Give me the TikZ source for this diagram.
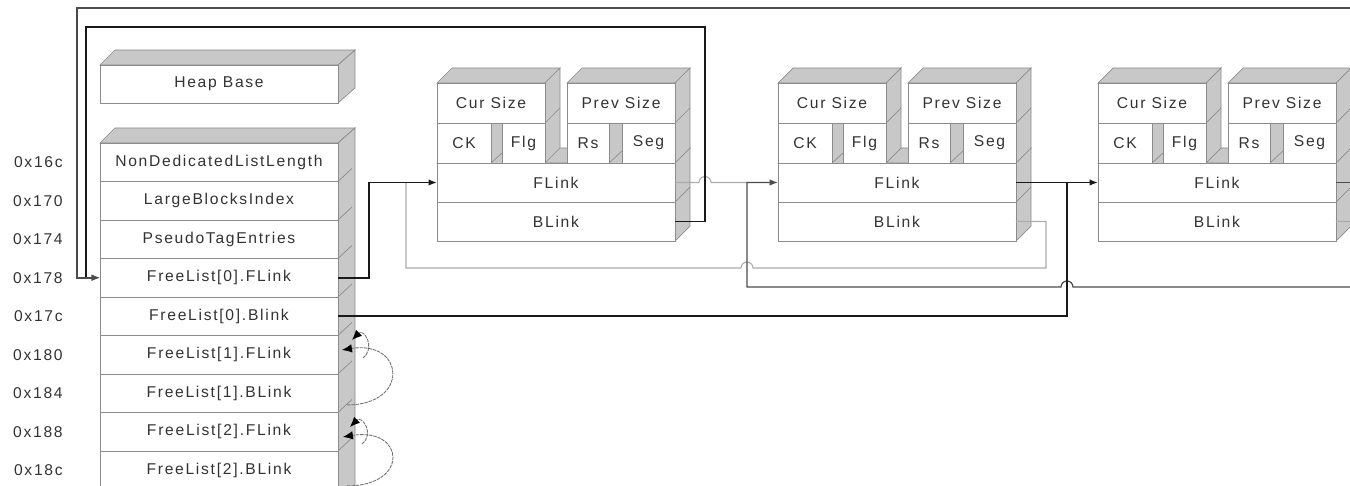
\documentclass[tikz,border=0pt]{standalone}
\usepackage{fontspec}
\usetikzlibrary{arrows.meta,calc,positioning}
\newfontfamily\cellfont[LetterSpace=11]{Liberation Sans}
\definecolor{facegray}{HTML}{C8C8C8}
\definecolor{edgegray}{HTML}{8C8C8C}
\definecolor{textgray}{HTML}{333333}
\tikzset{
  cell/.style={draw=edgegray, fill=white, inner sep=0pt, outer sep=0pt, text=textgray, font=\cellfont\fontsize{8.9}{10}\selectfont},
  heaprow/.style={cell, minimum width=4.76cm, minimum height=0.77cm},
  chunkcell/.style={cell, anchor=north west, minimum width=#1, minimum height=0.8cm},
  addr/.style={inner sep=0pt, text=textgray, font=\cellfont\fontsize{8.9}{10}\selectfont},
  face/.style={fill=facegray, draw=edgegray, line width=0.4pt},
  link/.style={line width=0.9pt, black!90},
  greylink/.style={line width=0.6pt, gray!65},
  darklink/.style={line width=0.7pt, black!70},
  arrow/.style={-{Latex[length=1.7mm, width=1.3mm]}},
  loopline/.style={line width=0.5pt, black!55, dash pattern=on 2pt off 0.5pt, -{Latex[length=2mm, width=1.7mm, color=black]}}
}

\begin{document}
\begin{tikzpicture}[x=0.02cm, y=-0.02cm]
  \useasboundingbox (0,0) rectangle (1350,486);
  \clip (0,0) rectangle (1350,486);
  \fill[white] (0,0) rectangle (1350,486);

  % heap header faces
  \draw[face] (100,65) -- (115,50) -- (355,50) -- (338,65) -- cycle;
  \draw[face] (338,65) -- (355,50) -- (355,88) -- (338,103) -- cycle;
  \draw[face] (100,143) -- (115,128) -- (355,128) -- (338,143) -- cycle;
  \draw[face] (338,143) -- (355,128) -- (355,500) -- (338,500) -- cycle;

  \node[heaprow, minimum height=0.76cm, anchor=north west] (hb) at (100,65) {Heap Base};
  \node[heaprow, anchor=north west] (nd) at (100,143) {NonDedicatedListLength};
  \node[heaprow, below=0pt of nd] (lbi) {LargeBlocksIndex};
  \node[heaprow, below=0pt of lbi] (pte) {PseudoTagEntries};
  \node[heaprow, below=0pt of pte] (f0f) {FreeList[0].FLink};
  \node[heaprow, below=0pt of f0f] (f0b) {FreeList[0].Blink};
  \node[heaprow, below=0pt of f0b] (f1f) {FreeList[1].FLink};
  \node[heaprow, below=0pt of f1f] (f1b) {FreeList[1].BLink};
  \node[heaprow, below=0pt of f1b] (f2f) {FreeList[2].FLink};
  \node[heaprow, below=0pt of f2f] (f2b) {FreeList[2].BLink};
  \foreach \r in {nd,lbi,pte,f0f,f0b,f1f,f1b,f2f}
    \draw[edgegray] (\r.south east) -- ++(14,-13);

  \node[addr, left=0.74cm of nd] (a16c) {0x16c};
  \node[addr, left=0.74cm of lbi] (a170) {0x170};
  \node[addr, left=0.74cm of pte] (a174) {0x174};
  \node[addr, left=0.74cm of f0f] (a178) {0x178};
  \node[addr, left=0.74cm of f0b] (a17c) {0x17c};
  \node[addr, left=0.74cm of f1f] (a180) {0x180};
  \node[addr, left=0.74cm of f1b] (a184) {0x184};
  \node[addr, left=0.74cm of f2f] (a188) {0x188};
  \node[addr, left=0.74cm of f2b] (a18c) {0x18c};

  % free chunks
  \foreach \i/\x in {1/437, 2/778, 3/1098}{
    \begin{scope}[shift={(\x,0)}]
      \draw[face] (0,163) -- (15,148) -- (253,148) -- (238,163) -- cycle;
      \draw[face] (0,83) -- (15,68) -- (123,68) -- (108,83) -- cycle;
      \draw[face] (108,83) -- (123,68) -- (123,148) -- (108,163) -- cycle;
      \draw[face] (130,83) -- (145,68) -- (253,68) -- (238,83) -- cycle;
      \draw[face] (238,83) -- (253,68) -- (253,226) -- (238,241) -- cycle;
      \fill[facegray] (54,123) rectangle (65,163) (172,123) rectangle (185,163);
      \draw[edgegray] (54,163) -- (65,153) (172,163) -- (185,151) (108,123) -- (123,108);
      \foreach \y in {123,163,202}
        \draw[edgegray] (238,\y) -- (253,\y-15);
      \node[chunkcell=2.16cm] (cs\i) at (0,83) {Cur Size};
      \node[chunkcell=1.08cm] (ck\i) at (0,123) {CK};
      \node[chunkcell=0.86cm] (fg\i) at (65,123) {Flg};
      \node[chunkcell=2.16cm] (ps\i) at (130,83) {Prev Size};
      \node[chunkcell=0.84cm] (rs\i) at (130,123) {Rs};
      \node[chunkcell=1.06cm] (sg\i) at (185,123) {Seg};
      \node[chunkcell=4.76cm, minimum height=0.78cm] (fl\i) at (0,163) {FLink};
      \node[cell, minimum width=4.76cm, minimum height=0.78cm, below=0pt of fl\i] (bl\i) {BLink};
    \end{scope}
  }

  \coordinate (j1) at ([xshift=-0.62cm]fl1.west);
  \coordinate (j2) at ([xshift=-0.62cm]fl2.west);
  \coordinate (j3) at ([xshift=-0.62cm]fl3.west);

  % list links
  \draw[greylink] (fl1.east) -- (699,182.5) arc[start angle=180, end angle=0, radius=0.12cm] -- (j2);
  \draw[greylink] (bl2.east) -- (1046,221.5) -- (1046,268) -- (753,268)
    arc[start angle=0, end angle=180, radius=0.12cm] -- (406,268) -- (j1);
  \draw[greylink] (bl3.east) -- (1360,221.5);
  \draw[darklink, arrow] (bl3.east) ++(30,0) -- (1370,221.5) |- (1073,287)
    arc[start angle=0, end angle=180, radius=0.12cm] -- (747,287) |- (fl2.west);
  \draw[link, arrow] (f0f.east) -- ++(31,0) |- (fl1.west);
  \draw[link, arrow] (fl2.east) -- (fl3.west);
  \draw[link] (f0b.east) -| (j3);
  \draw[link, arrow] (bl1.east) -| (705,27) -- (86,27) |- (f0f.west);
  \draw[darklink, line width=0.9pt, arrow] (fl3.east) -| (1380,8) -- (77,8) |- (f0f.west);

  % empty lists point back to themselves
  \draw[loopline] ($(f1f.north east)+(25,22.5)$) .. controls +(13,-10) and +(12,-12) .. ($(f1f.north east)+(14,4.5)$);
  \draw[loopline] ($(f1b.south east)+(9,-7.5)$) .. controls +(63,0) and +(63,-10) .. ($(f1f.north east)+(4,14.5)$);
  \draw[loopline] ($(f2f.north east)+(24,31.5)$) .. controls +(13,-10) and +(12,-12) .. ($(f2f.north east)+(12,14.5)$);
  \draw[loopline] ($(f2b.south east)+(9,-3.5)$) .. controls +(63,0) and +(62,-10) .. ($(f2f.north east)+(5,24.5)$);
\end{tikzpicture}
\end{document}
